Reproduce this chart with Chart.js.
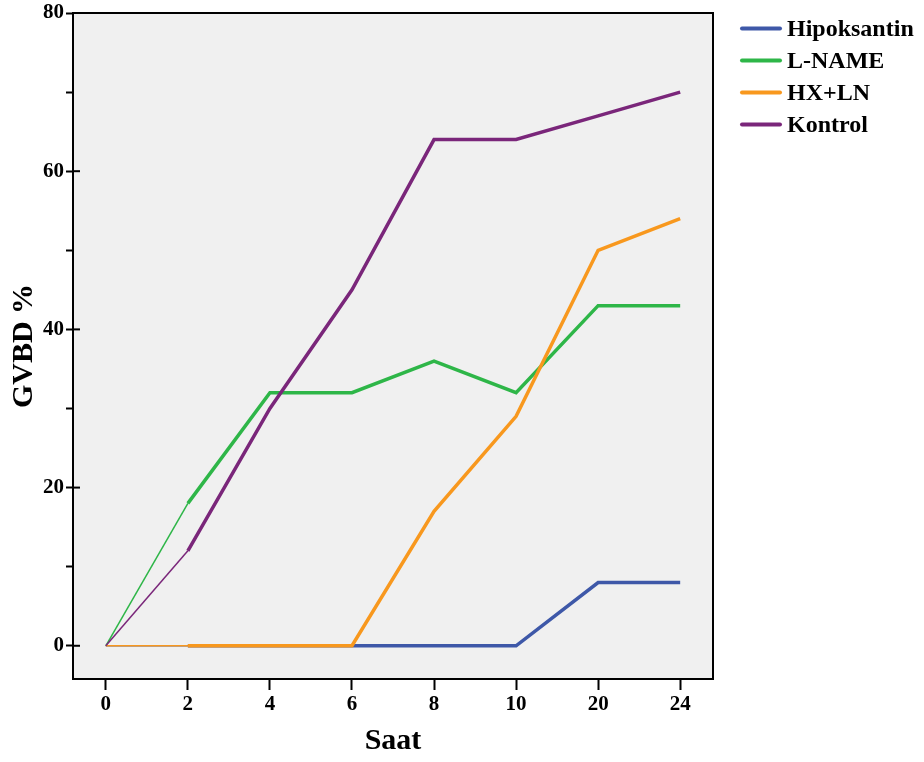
<!DOCTYPE html>
<html>
<head>
<meta charset="utf-8">
<script src="https://cdn.jsdelivr.net/npm/chart.js@4"></script>
<style>
  html, body { margin: 0; padding: 0; background: #fff; }
  #wrap { width: 924px; height: 762px; }
</style>
</head>
<body>
<div id="wrap"><canvas id="gvbdChart" width="924" height="762"></canvas></div>
<script>
// Zaman noktalari (saat) ve gruplara gore GVBD yuzdeleri
const hours = ['0', '2', '4', '6', '8', '10', '20', '24'];
const hipoksantin = [0, 0, 0, 0, 0, 0, 8, 8];
const lname = [0, 18, 32, 32, 36, 32, 43, 43];
const hxln = [0, 0, 0, 0, 17, 29, 50, 54];
const kontrol = [0, 12, 30, 45, 64, 64, 67, 70];
const yTicks = [0, 10, 20, 30, 40, 50, 60, 70, 80];

const serif = '"Liberation Serif", "Times New Roman", serif';

function series(label, values, color, order) {
    return {
        label: label,
        data: values.map((v, i) => ({ x: i, y: v })),
        borderColor: color,
        backgroundColor: color,
        borderWidth: 3.5,
        pointRadius: 0,
        tension: 0,
        order: order,
        // first step (0 -> 2 saat) is drawn thin
        segment: { borderWidth: c => c.p0DataIndex === 0 ? 1.5 : 3.5 }
    };
}

// grey plot background + black frame + inner stubs for major y ticks
const frame = {
    id: 'frame',
    beforeDatasetsDraw(chart) {
        const { ctx, chartArea: a } = chart;
        ctx.save();
        ctx.fillStyle = '#f0f0f0';
        ctx.fillRect(a.left, a.top, a.right - a.left, a.bottom - a.top);
        ctx.restore();
    },
    afterDatasetsDraw(chart) {
        const { ctx, chartArea: a, scales } = chart;
        ctx.save();
        ctx.strokeStyle = '#000';
        ctx.lineWidth = 2;
        ctx.strokeRect(a.left, a.top, a.right - a.left, a.bottom - a.top);
        yTicks.filter(v => v % 20 === 0).forEach(v => {
            const y = scales.y.getPixelForValue(v);
            ctx.beginPath();
            ctx.moveTo(a.left, y);
            ctx.lineTo(a.left + 7, y);
            ctx.stroke();
        });
        ctx.restore();
    }
};

// legend on the right, drawn by hand
const sideLegend = {
    id: 'sideLegend',
    afterDraw(chart) {
        const { ctx } = chart;
        ctx.save();
        ctx.font = 'bold 24px ' + serif;
        ctx.textBaseline = 'middle';
        ctx.lineCap = 'round';
        chart.data.datasets.forEach((ds, i) => {
            const y = 28.5 + i * 32;
            ctx.strokeStyle = ds.borderColor;
            ctx.lineWidth = 4;
            ctx.beginPath();
            ctx.moveTo(742, y);
            ctx.lineTo(780, y);
            ctx.stroke();
            ctx.fillStyle = '#000';
            ctx.fillText(ds.label, 787, y + 1);
        });
        ctx.restore();
    }
};

new Chart(document.getElementById('gvbdChart'), {
    type: 'line',
    data: {
        datasets: [
            series('Hipoksantin', hipoksantin, 'rgb(62,88,168)', 4),
            series('L-NAME', lname, 'rgb(46,182,72)', 3),
            series('HX+LN', hxln, 'rgb(248,152,30)', 2),
            series('Kontrol', kontrol, 'rgb(122,38,122)', 1)
        ]
    },
    options: {
        responsive: false,
        animation: false,
        layout: { padding: { top: 13, right: 211, left: 0, bottom: 0 } },
        plugins: {
            legend: { display: false },
            tooltip: { enabled: false }
        },
        scales: {
            x: {
                type: 'linear',
                min: -0.4,
                max: 7.4,
                afterBuildTicks: s => { s.ticks = hours.map((h, i) => ({ value: i })); },
                afterFit: s => { s.height = 83; },
                grid: { drawOnChartArea: false, tickLength: 11, tickColor: '#000', tickWidth: 2 },
                border: { display: false },
                ticks: {
                    color: '#000',
                    padding: 2,
                    maxRotation: 0,
                    font: { family: serif, size: 21, weight: 'bold' },
                    callback: v => hours[v]
                },
                title: {
                    display: true,
                    text: 'Saat',
                    color: '#000',
                    padding: { top: 0, bottom: 3 },
                    font: { family: serif, size: 30, weight: 'bold' }
                }
            },
            y: {
                min: -4.2,
                max: 80,
                afterBuildTicks: s => { s.ticks = yTicks.map(v => ({ value: v })); },
                afterFit: s => { s.width = 73; },
                grid: { drawOnChartArea: false, tickLength: 7, tickColor: '#000', tickWidth: 2 },
                border: { display: false },
                ticks: {
                    color: '#000',
                    padding: 2,
                    font: { family: serif, size: 21, weight: 'bold', lineHeight: 1 },
                    callback: v => (v % 20 === 0 ? v : '')
                },
                title: {
                    display: true,
                    text: 'GVBD %',
                    color: '#000',
                    padding: { top: 6, bottom: 0 },
                    font: { family: serif, size: 30, weight: 'bold' }
                }
            }
        }
    },
    plugins: [frame, sideLegend]
});
</script>
</body>
</html>
